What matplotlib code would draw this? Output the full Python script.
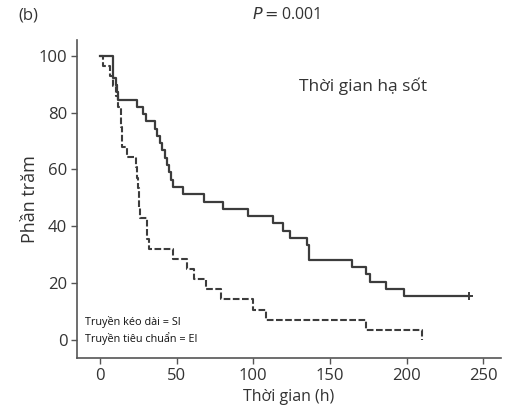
import matplotlib
matplotlib.use("Agg")
from matplotlib import pyplot as plt

# Kaplan-Meier style curves (time in h, percent)
siTime = [0, 8.5, 10.4, 11.1, 11.7, 24.1, 28.0, 29.9, 35.8, 37.1, 39.1, 40.4,
          42.3, 43.6, 44.9, 46.2, 47.5, 54.0, 67.7, 80.1, 96.4, 112.6, 119.1,
          123.7, 134.8, 136.1, 136.1, 164.1, 173.8, 175.8, 186.8, 198.6, 240.9]
siPct = [100, 92.3, 89.7, 87.2, 84.6, 82.1, 79.5, 76.9, 74.4, 71.8, 69.2, 66.7,
         64.1, 61.5, 59.0, 56.4, 53.8, 51.3, 48.7, 46.2, 43.6, 41.0, 38.5,
         35.9, 33.3, 30.8, 28.2, 25.6, 23.1, 20.5, 17.9, 15.4, 15.4]

eiTime = [0, 2.0, 6.5, 8.5, 10.4, 11.7, 13.7, 14.0, 14.3, 14.6, 17.6, 23.4,
          24.1, 24.7, 25.4, 25.7, 26.0, 30.6, 30.6, 31.9, 47.5, 57.0, 61.2,
          69.0, 78.8, 99.9, 108.1, 173.8, 210.3]
eiPct = [100, 96.4, 92.9, 89.3, 85.7, 82.1, 78.6, 75.0, 71.4, 67.9, 64.3, 60.7,
         57.1, 53.6, 50.0, 46.4, 42.9, 39.3, 35.7, 32.1, 28.6, 25.0, 21.4,
         17.9, 14.3, 10.7, 7.1, 3.6, 0]

xTicks = [0, 50, 100, 150, 200, 250]
yTicks = [0, 20, 40, 60, 80, 100]

lineColor = "#3c3c3c"
textColor = "#333333"

plt.rcParams["font.family"] = ["Open Sans", "DejaVu Sans"]

fig = plt.figure(figsize=(5.05, 4.2), dpi=100)
ax = fig.add_axes([0.1525, 0.148, 0.84, 0.757])

ax.plot(siTime, siPct, drawstyle="steps-post", color=lineColor, lw=1.6)
ax.plot(siTime[-1], siPct[-1], marker="+", color=lineColor, ms=6, mew=1.4)
ax.plot(eiTime, eiPct, drawstyle="steps-post", color=lineColor, lw=1.5,
        dashes=(3.2, 1.2))

ax.set_xlim(-15, 261.7)
ax.set_ylim(-6.3, 105.6)
ax.set_xticks(xTicks)
ax.set_yticks(yTicks)
ax.tick_params(direction="out", length=4, width=1, color="#555555",
               labelsize=12, labelcolor=textColor, pad=3)
for side in ["top", "right"]:
    ax.spines[side].set_visible(False)
for side in ["left", "bottom"]:
    ax.spines[side].set_color("#555555")
    ax.spines[side].set_linewidth(1.2)

ax.set_xlabel("Thời gian (h)", fontsize=11.5, color=textColor, labelpad=4)
ax.set_ylabel("Phần trăm", fontsize=13, color=textColor, labelpad=0)

ax.text(171.9, 89.4, "Thời gian hạ sốt", fontsize=12.5, color=textColor,
        ha="center", va="center")
ax.text(-9.8, 6.3, "Truyền kéo dài = SI", fontsize=7.8, color="#111111",
        ha="left", va="center")
ax.text(-9.8, 0.4, "Truyền tiêu chuẩn = EI", fontsize=7.8, color="#111111",
        ha="left", va="center")

fig.text(0.036, 0.964, "(b)", fontsize=12, color=textColor, ha="left", va="center")
fig.text(0.566, 0.964, "$\\it{P}$$=$0.001", fontsize=11.5, color=textColor,
         ha="center", va="center")

fig.savefig("out.png", dpi=100)
